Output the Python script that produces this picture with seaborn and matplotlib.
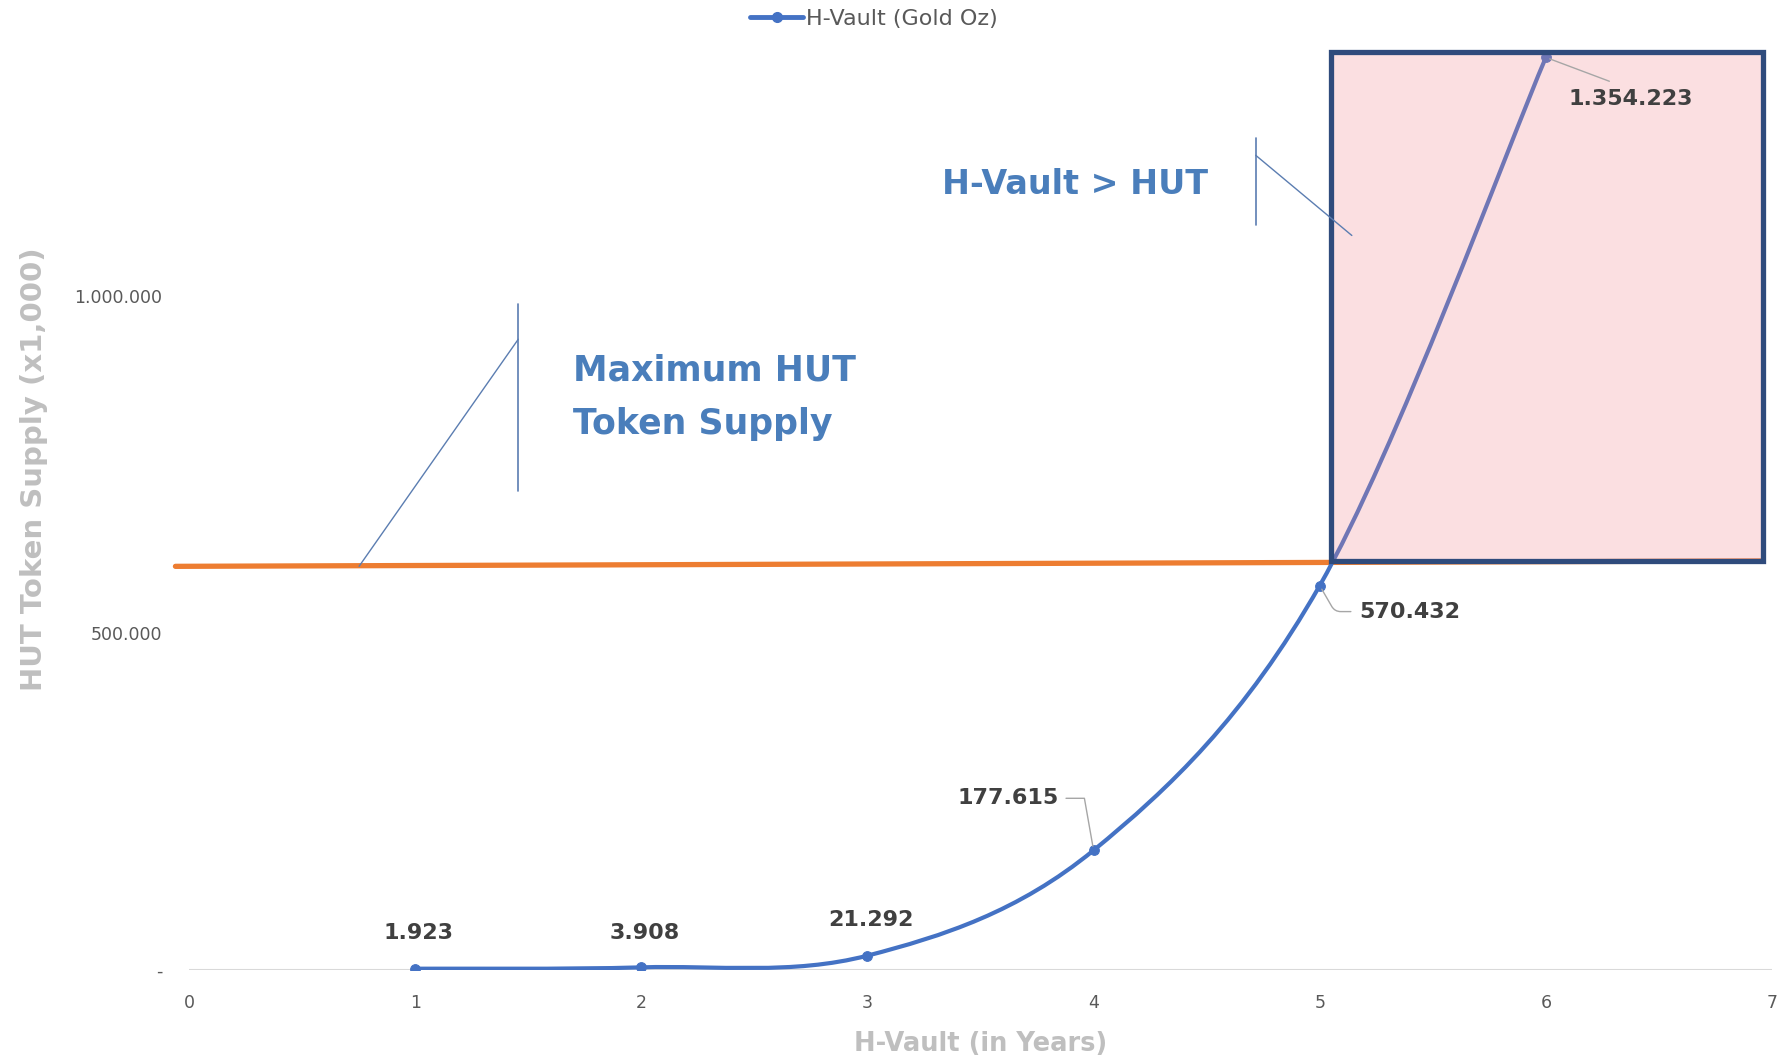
import matplotlib
matplotlib.use("Agg")
import matplotlib.pyplot as plt
from matplotlib.path import Path
from matplotlib.patches import PathPatch, Rectangle
from matplotlib.lines import Line2D
from matplotlib.ticker import FuncFormatter
import seaborn as sns
import pandas as pd

# DATA
years = [1, 2, 3, 4, 5, 6]
gold_oz = [1923, 3908, 21292, 177615, 570432, 1354223]
point_labels = ["1.923", "3.908", "21.292", "177.615", "570.432", "1.354.223"]

# maximum supply line (hand drawn shape in the source, slightly tilted)
supply_x = [-0.06, 6.95]
supply_y = [599000, 607000]

# highlighted zone "H-Vault > HUT"
zone_x = [5.05, 6.96]
zone_y = [607000, 1362000]

y_ticks = [0, 500000, 1000000]
x_ticks = [0, 1, 2, 3, 4, 5, 6, 7]

# callout texts and their leader lines (data coords)
callouts = ["Maximum HUT\nToken Supply", "H-Vault > HUT"]
callout_pos = [(1.70, 850000), (3.33, 1166000)]
callout_vlines = [(1.456, 711000, 988000), (4.717, 1105000, 1234000)]
callout_diag = [((1.456, 936000), (0.752, 599000)), ((4.717, 1209000), (5.142, 1090000))]

# label offsets in pixels from each point
label_offsets = [(3, 36), (3, 34), (4, 36), (-81, 52), (86, -26), (89, -42)]

BLUE = "#4472C4"
ORANGE = "#ED7D31"
NAVY = "#2F4B7C"
LABEL_GREY = "#404040"
AXIS_GREY = "#BFBFBF"

df = pd.DataFrame({"year": years, "oz": gold_oz})

sns.set_theme(style="white")
plt.rcParams["font.family"] = ["DejaVu Sans"]

fig = plt.figure(figsize=(17.83, 10.63), dpi=100)
ax = fig.add_axes([189 / 1783, 0.0875, (1772 - 189) / 1783, 0.8875])


# Excel-like smoothed line (cubic bezier through the data points)
def smooth_path(xs, ys):
    pts = list(zip(xs, ys))
    verts = [pts[0]]
    codes = [Path.MOVETO]
    n = len(pts)
    for i in range(n - 1):
        p0 = pts[i - 1] if i > 0 else pts[i]
        p1 = pts[i]
        p2 = pts[i + 1]
        p3 = pts[i + 2] if i + 2 < n else pts[i + 1]
        c1 = (p1[0] + (p2[0] - p0[0]) / 6, p1[1] + (p2[1] - p0[1]) / 6)
        c2 = (p2[0] - (p3[0] - p1[0]) / 6, p2[1] - (p3[1] - p1[1]) / 6)
        verts += [c1, c2, p2]
        codes += [Path.CURVE4] * 3
    return Path(verts, codes)


ax.add_patch(PathPatch(smooth_path(years, gold_oz), facecolor="none",
                       edgecolor=BLUE, lw=3.0, zorder=3, capstyle="round"))
sns.lineplot(data=df, x="year", y="oz", ax=ax, color=BLUE, marker="o",
             markersize=7, linestyle="none", markeredgecolor=BLUE, zorder=4,
             legend=False)

# baseline
ax.axhline(0, color="#D9D9D9", lw=1.5, zorder=1)

# maximum supply line
sns.lineplot(x=supply_x, y=supply_y, ax=ax, color=ORANGE, lw=3.8, zorder=2,
             legend=False)
for ln in ax.lines[-1:]:
    ln.set_clip_on(False)

# highlighted zone
ax.add_patch(Rectangle((zone_x[0], zone_y[0]), zone_x[1] - zone_x[0],
                       zone_y[1] - zone_y[0], facecolor="#F3838B", alpha=0.25,
                       edgecolor="none", zorder=5))
ax.add_patch(Rectangle((zone_x[0], zone_y[0]), zone_x[1] - zone_x[0],
                       zone_y[1] - zone_y[0], facecolor="none",
                       edgecolor=NAVY, lw=3.8, zorder=6, clip_on=False))

# data labels
for i, (x, y, lab) in enumerate(zip(years, gold_oz, point_labels)):
    dx, dy = label_offsets[i]
    ha = "center"
    props = None
    rel = (0.5, 0.5)
    if i == 3:
        ha = "right"
        dx = dx + 46
        props = dict(arrowstyle="-", color="#A6A6A6", lw=1,
                     connectionstyle="angle,angleA=0,angleB=100,rad=0",
                     shrinkA=3, shrinkB=3)
    elif i == 4:
        ha = "left"
        dx = dx - 46
        props = dict(arrowstyle="-", color="#A6A6A6", lw=1,
                     connectionstyle="angle,angleA=180,angleB=-60,rad=6",
                     shrinkA=4, shrinkB=3)
    elif i == 5:
        ha = "left"
        dx = dx - 66
        rel = (0.5, 1.0)
        props = dict(arrowstyle="-", color="#A6A6A6", lw=1,
                     shrinkA=10, shrinkB=3, relpos=rel)
    ax.annotate(lab, xy=(x, y), xytext=(dx, dy), textcoords="offset pixels",
                ha=ha, va="center", fontsize=16, fontweight="bold",
                color=LABEL_GREY, arrowprops=props, zorder=7)

# callouts
for txt, pos in zip(callouts, callout_pos):
    ax.text(pos[0], pos[1], txt, fontsize=25 if "\n" in txt else 24,
            fontweight="bold", color="#4A7EBB", ha="left", va="center",
            linespacing=1.7, zorder=7)
for xv, y0, y1 in callout_vlines:
    ax.plot([xv, xv], [y0, y1], color="#5B7DB1", lw=1.2, zorder=7)
for (a, b) in callout_diag:
    ax.plot([a[0], b[0]], [a[1], b[1]], color="#5B7DB1", lw=1.0, zorder=7)

# axes
ax.set_xlim(0, 7)
ax.set_ylim(0, 1400000)
ax.set_xticks(x_ticks)
ax.set_yticks(y_ticks)
ax.yaxis.set_major_formatter(FuncFormatter(
    lambda v, p: "-" if v == 0 else f"{int(v):,}".replace(",", ".")))
ax.tick_params(axis="both", length=0, labelsize=12.5, labelcolor="#595959")
ax.tick_params(axis="y", pad=19)
ax.tick_params(axis="x", pad=17)
for s in ax.spines.values():
    s.set_visible(False)
ax.grid(False)
ax.set_xlabel("H-Vault (in Years)", fontsize=18.5, fontweight="bold",
              color=AXIS_GREY, labelpad=14)
ax.set_ylabel("HUT Token Supply (x1,000)", fontsize=21, fontweight="bold",
              color=AXIS_GREY)
ax.yaxis.set_label_coords(-0.089, 0.531)

# legend
handle = Line2D([], [], color=BLUE, lw=3.5, marker="o", markersize=7)
fig.legend(handles=[handle], labels=["H-Vault (Gold Oz)"], loc="center",
           bbox_to_anchor=(0.49, 0.982), frameon=False, fontsize=16,
           handlelength=2.4, handletextpad=0.1, labelcolor="#595959")

fig.savefig("out.png", dpi=100)
